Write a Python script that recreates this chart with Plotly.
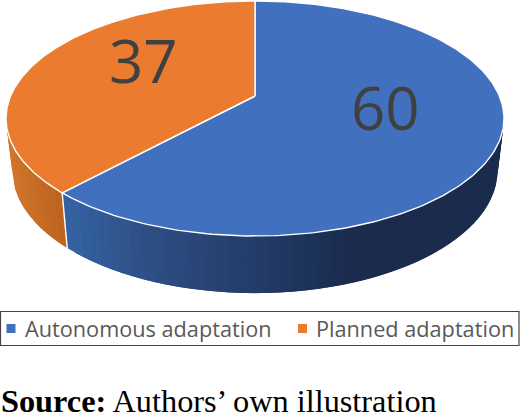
import numpy as np
import plotly.graph_objects as go

categories = ["Autonomous adaptation", "Planned adaptation"]
values = [60, 37]
top_colors = ["#4170BF", "#EB7B2F"]
label_xy = [(385, 107), (143, 60)]
legend_marker_x = [11, 302.5]
legend_text_x = [24.5, 316]

# perspective projection of the pie disc onto the page
CX, K = 255.0, 0.1915
TOP = dict(a=96.0, b=-94.81, ax=244.4)
BOT = dict(a=147.0, b=-90.0, ax=238.0)


def project(theta_deg, plane, r=1.0):
    t = np.radians(theta_deg)
    X, Y = r * np.sin(t), r * np.cos(t)
    w = 1 + K * Y
    return CX + plane["ax"] * X / w, (plane["a"] + plane["b"] * Y) / w


def ramp(x, stops):
    xs = [s[0] for s in stops]
    rgb = [int(np.interp(x, xs, [s[1][i] for s in stops])) for i in range(3)]
    return f"rgb({rgb[0]},{rgb[1]},{rgb[2]})"


blue_side = [(67, (52, 97, 160)), (130, (47, 80, 135)), (200, (40, 67, 115)),
             (255, (34, 58, 102)), (340, (26, 43, 77)), (520, (26, 43, 77))]
orange_side = [(8, (208, 117, 42)), (62, (184, 96, 31))]

total = sum(values)
split = 360.0 * values[0] / total

fig = go.Figure()


def side(t0, t1, stops):
    # each band overlaps the one painted before it, so no seams show
    n = max(2, int((t1 - t0) / 2.5))
    edges = np.linspace(t0, t1, n + 1)
    step = edges[1] - edges[0]
    for a, b in zip(edges[:-1], edges[1:]):
        a0 = max(t0, a - step)
        th = np.linspace(a0, b, 6)
        xt, yt = project(th, TOP)
        xb, yb = project(th[::-1], BOT)
        xm, _ = project((a + b) / 2, TOP)
        col = ramp(xm, stops)
        fig.add_trace(go.Scatter(
            x=np.r_[xt, xb, xt[0]], y=np.r_[yt, yb, yt[0]], mode="lines",
            fill="toself", fillcolor=col, line=dict(width=0),
            showlegend=False, hoverinfo="skip"))


side(80, split, blue_side)
side(split, 280, orange_side)

# top faces
ranges = [(0.0, split), (split, 360.0)]
for (t0, t1), col, name in zip(ranges, top_colors, categories):
    th = np.linspace(t0, t1, 240)
    x, y = project(th, TOP)
    cx0, cy0 = project(0.0, TOP, 0.0)
    fig.add_trace(go.Scatter(
        x=np.r_[cx0, x, cx0], y=np.r_[cy0, y, cy0], mode="lines",
        fill="toself", fillcolor=col, line=dict(color="white", width=1.4),
        showlegend=False, hoverinfo="skip", name=name))

# white seam between the two side walls
sx0, sy0 = project(split, TOP)
sx1, sy1 = project(split, BOT)
fig.add_trace(go.Scatter(x=[sx0, sx1], y=[sy0, sy1], mode="lines",
                         line=dict(color="white", width=1.4),
                         showlegend=False, hoverinfo="skip"))

# legend swatches
for mx, col, name in zip(legend_marker_x, top_colors, categories):
    fig.add_trace(go.Scatter(x=[mx], y=[328.5], mode="markers", name=name,
                             marker=dict(symbol="square", size=9, color=col),
                             showlegend=False, hoverinfo="skip"))

annotations = []
for (lx, ly), v in zip(label_xy, values):
    annotations.append(dict(x=lx, y=ly, text=str(v), showarrow=False,
                            xanchor="center", yanchor="middle",
                            font=dict(family="Open Sans", size=60, color="#404040")))
for tx, name in zip(legend_text_x, categories):
    annotations.append(dict(x=tx, y=328.5, text=name, showarrow=False,
                            xanchor="left", yanchor="middle", xshift=-2,
                            font=dict(family="Open Sans", size=21.7, color="#595959")))
annotations.append(dict(x=0, y=413, text="<b>Source:</b> Authors’ own illustration",
                        showarrow=False, xanchor="left", yanchor="bottom",
                        font=dict(family="Liberation Serif", size=32.3, color="#000000"),
                        borderpad=0, yshift=-7))

fig.update_layout(
    width=520, height=413, margin=dict(l=0, r=0, t=0, b=0),
    paper_bgcolor="white", plot_bgcolor="white", showlegend=False,
    xaxis=dict(range=[0, 520], visible=False, fixedrange=True),
    yaxis=dict(range=[413, 0], visible=False, fixedrange=True),
    annotations=annotations,
    shapes=[dict(type="rect", x0=0.5, x1=519, y0=311.5, y1=345.5,
                 line=dict(color="#444444", width=1.2), fillcolor="rgba(0,0,0,0)")],
)

fig.write_html("out.html", config=dict(displayModeBar=False),
               post_script="document.body.style.margin='0';document.body.style.overflow='hidden';")
